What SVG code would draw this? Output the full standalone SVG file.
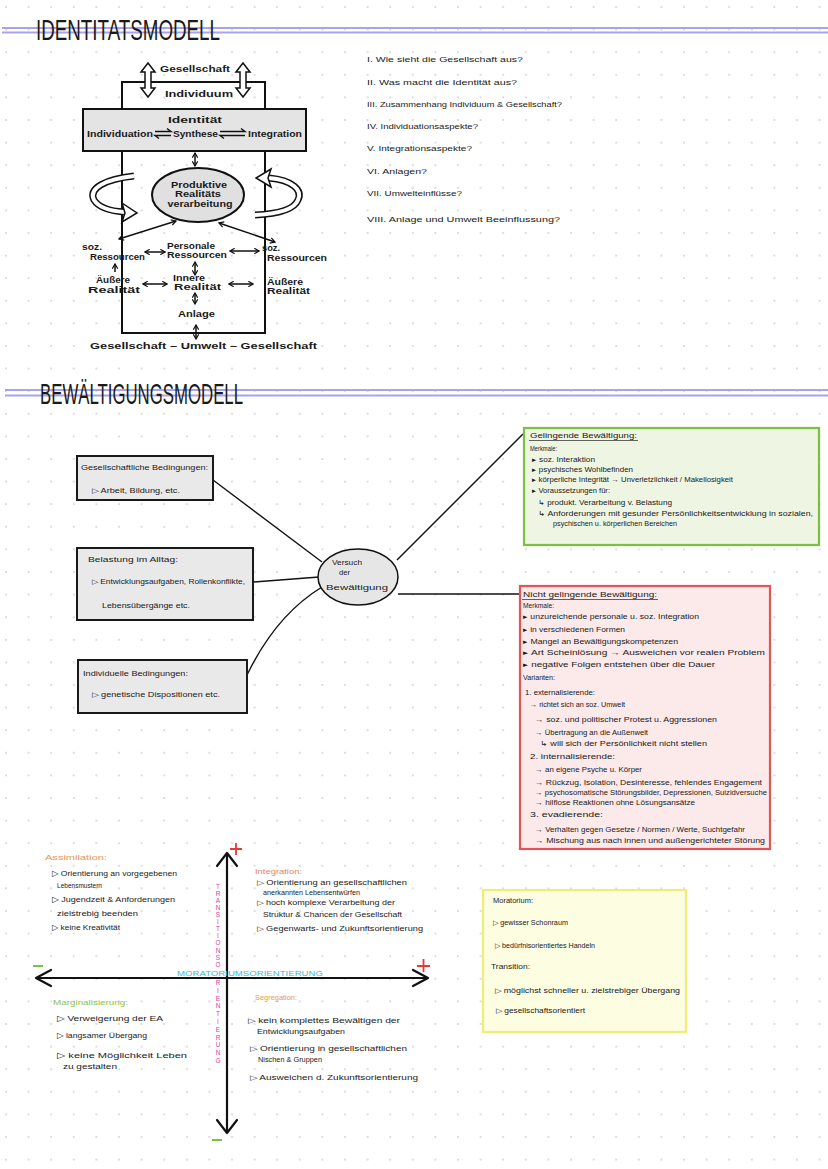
<svg xmlns="http://www.w3.org/2000/svg" width="828" height="1169" viewBox="0 0 828 1169">
<defs>
<pattern id="dots" x="5" y="6" width="22.6" height="22.6" patternUnits="userSpaceOnUse">
<circle cx="1" cy="1" r="0.9" fill="#cdcdcd"/>
</pattern>
<marker id="ah" viewBox="0 0 10 10" refX="8" refY="5" markerWidth="4.5" markerHeight="4.5" orient="auto-start-reverse"><path d="M1,1 L8,5 L1,9" fill="none" stroke="#111" stroke-width="1.8"/></marker>
</defs>
<style>
text{font-family:"Liberation Sans",Arial,sans-serif;fill:#1a1a1a;}
.title{font-size:30px;}
.idl{font-size:9px;font-weight:bold;}
.q{font-size:7.5px;}
.b{font-size:7.5px;}
.m{font-size:8px;}
.s{font-size:7px;}
.ln{stroke:#111;stroke-width:1.4;fill:none;}
.thick{stroke:#111;stroke-width:2;fill:none;}
.arr{stroke:#111;stroke-width:1.5;fill:none;marker-start:url(#ah);marker-end:url(#ah);}
.arr1{stroke:#111;stroke-width:1.5;fill:none;marker-end:url(#ah);}
.purple{stroke:#a9a3ee;stroke-width:2;}
.gbox{fill:#e9e9e9;stroke:#1a1a1a;stroke-width:2;}
.ax{stroke:#111;stroke-width:2.2;fill:none;stroke-linecap:round;stroke-linejoin:round;}
</style>
<rect width="828" height="1169" fill="#fff"/>
<rect width="828" height="1169" fill="url(#dots)"/>

<!-- Titles -->
<g id="title1">
<line class="purple" x1="2" y1="28" x2="828" y2="28"/>
<line class="purple" x1="2" y1="32.5" x2="828" y2="32.5"/>
<text class="title" x="36" y="40" textLength="184" lengthAdjust="spacingAndGlyphs">IDENTITATSMODELL</text>
</g>
<g id="title2">
<line class="purple" x1="5" y1="390" x2="828" y2="390"/>
<line class="purple" x1="5" y1="395.5" x2="828" y2="395.5"/>
<text class="title" x="40" y="404" textLength="203" lengthAdjust="spacingAndGlyphs">BEWÄLTIGUNGSMODELL</text>
</g>

<!-- Identity model -->
<g id="identitaetsmodell">
<rect x="122" y="82" width="143" height="251" class="thick"/>
<polygon points="148,63 155,72 151,72 151,88 155,88 148,97 141,88 145,88 145,72 141,72" fill="#fff" stroke="#111" stroke-width="1.5"/>
<polygon points="243,63 250,72 246,72 246,88 250,88 243,97 236,88 240,88 240,72 236,72" fill="#fff" stroke="#111" stroke-width="1.5"/>
<text class="idl" x="160" y="72" textLength="70" lengthAdjust="spacingAndGlyphs">Gesellschaft</text>
<text class="idl" x="165" y="97" textLength="68" lengthAdjust="spacingAndGlyphs">Individuum</text>
<g id="identitaet">
<rect x="83" y="109" width="223" height="42" fill="#e4e4e4" stroke="#111" stroke-width="2"/>
<text class="idl" x="168" y="123" textLength="54" lengthAdjust="spacingAndGlyphs">Identität</text>
<text class="idl" x="87" y="137" textLength="66" lengthAdjust="spacingAndGlyphs">Individuation</text>
<text class="idl" x="173" y="137" textLength="45" lengthAdjust="spacingAndGlyphs">Synthese</text>
<text class="idl" x="248" y="137" textLength="54" lengthAdjust="spacingAndGlyphs">Integration</text>
<path class="ln" d="M155,131.5 H171 L167,128.5 M171,135.5 H155 L159,138.5"/>
<path class="ln" d="M220,131.5 H245 L241,128.5 M245,135.5 H220 L224,138.5"/>
</g>
<line class="arr" x1="195" y1="153" x2="195" y2="166"/>
<g id="realitaetsverarbeitung">
<ellipse cx="198" cy="195" rx="46" ry="27" fill="#e0e0e0" stroke="#111" stroke-width="2"/>
<text class="idl" x="199" y="188" text-anchor="middle" textLength="56" lengthAdjust="spacingAndGlyphs">Produktive</text>
<text class="idl" x="198" y="197" text-anchor="middle" textLength="46" lengthAdjust="spacingAndGlyphs">Realitäts</text>
<text class="idl" x="200" y="207" text-anchor="middle" textLength="65" lengthAdjust="spacingAndGlyphs">verarbeitung</text>
</g>
<!-- curls -->
<path d="M134,176 C106,179 88,188 94,200 C99,208 110,211 124,212" fill="none" stroke="#111" stroke-width="7"/>
<path d="M134,176 C106,179 88,188 94,200 C99,208 110,211 124,212" fill="none" stroke="#fff" stroke-width="4"/>
<polygon points="122,203 137,213 122,222 125,213" fill="#fff" stroke="#111" stroke-width="1.5"/>
<path d="M269,178 C292,180 303,190 298,200 C294,210 276,214 255,215" fill="none" stroke="#111" stroke-width="7"/>
<path d="M269,178 C292,180 303,190 298,200 C294,210 276,214 255,215" fill="none" stroke="#fff" stroke-width="4"/>
<polygon points="271,169 256,178 271,187 268,178" fill="#fff" stroke="#111" stroke-width="1.5"/>
<line class="arr" x1="176" y1="221" x2="119" y2="239"/>
<line class="arr" x1="219" y1="223" x2="275" y2="242"/>
<text class="idl" x="82" y="250" textLength="20" lengthAdjust="spacingAndGlyphs">soz.</text>
<text class="idl" x="90" y="260" textLength="55" lengthAdjust="spacingAndGlyphs">Ressourcen</text>
<text class="idl" x="167" y="249" textLength="48" lengthAdjust="spacingAndGlyphs">Personale</text>
<text class="idl" x="167" y="258" textLength="60" lengthAdjust="spacingAndGlyphs">Ressourcen</text>
<text class="idl" x="262" y="251" textLength="18" lengthAdjust="spacingAndGlyphs">soz.</text>
<text class="idl" x="267" y="261" textLength="60" lengthAdjust="spacingAndGlyphs">Ressourcen</text>
<line class="arr" x1="145" y1="252" x2="165" y2="252"/>
<line class="arr" x1="230" y1="251" x2="259" y2="251"/>
<line class="arr" x1="195" y1="262" x2="195" y2="275"/>
<line class="arr1" x1="115" y1="272" x2="115" y2="264"/>
<text class="idl" x="96" y="283" textLength="34" lengthAdjust="spacingAndGlyphs">Äußere</text>
<text class="idl" x="88" y="293" textLength="52" lengthAdjust="spacingAndGlyphs">Realität</text>
<text class="idl" x="173" y="281" textLength="32" lengthAdjust="spacingAndGlyphs">Innere</text>
<text class="idl" x="174" y="290" textLength="47" lengthAdjust="spacingAndGlyphs">Realität</text>
<text class="idl" x="267" y="285" textLength="36" lengthAdjust="spacingAndGlyphs">Äußere</text>
<text class="idl" x="267" y="294" textLength="43" lengthAdjust="spacingAndGlyphs">Realität</text>
<line class="arr" x1="143" y1="284" x2="167" y2="284"/>
<line class="arr" x1="229" y1="284" x2="253" y2="284"/>
<line class="arr" x1="195" y1="293" x2="195" y2="304"/>
<text class="idl" x="178" y="317" textLength="37" lengthAdjust="spacingAndGlyphs">Anlage</text>
<line class="arr" x1="196" y1="325" x2="196" y2="339"/>
<text class="idl" x="90" y="349" font-size="10" textLength="227" lengthAdjust="spacingAndGlyphs">Gesellschaft  –  Umwelt  –  Gesellschaft</text>
</g>

<!-- Questions -->
<g id="fragen">
<text class="q" x="367" y="62" textLength="156" lengthAdjust="spacingAndGlyphs">I. Wie sieht die Gesellschaft aus?</text>
<text class="q" x="367" y="85" textLength="150" lengthAdjust="spacingAndGlyphs">II. Was macht die Identität aus?</text>
<text class="q" x="367" y="107" textLength="195" lengthAdjust="spacingAndGlyphs">III. Zusammenhang Individuum &amp; Gesellschaft?</text>
<text class="q" x="367" y="129" textLength="111" lengthAdjust="spacingAndGlyphs">IV. Individuationsaspekte?</text>
<text class="q" x="367" y="151" textLength="105" lengthAdjust="spacingAndGlyphs">V. Integrationsaspekte?</text>
<text class="q" x="367" y="174" textLength="60" lengthAdjust="spacingAndGlyphs">VI. Anlagen?</text>
<text class="q" x="367" y="196" textLength="95" lengthAdjust="spacingAndGlyphs">VII. Umwelteinflüsse?</text>
<text class="q" x="367" y="222" textLength="193" lengthAdjust="spacingAndGlyphs">VIII. Anlage und Umwelt Beeinflussung?</text>
</g>

<!-- Bewältigungsmodell connectors -->
<g id="connectors">
<line class="ln" x1="213" y1="480" x2="322" y2="562"/>
<line class="ln" x1="253" y1="582" x2="319" y2="577"/>
<path class="ln" d="M247,675 Q276,615 322,587"/>
<line class="ln" x1="397" y1="560" x2="523" y2="434"/>
<line class="ln" x1="398" y1="594" x2="521" y2="594"/>
</g>

<g id="gesellschaftliche-bedingungen">
<rect x="77" y="456" width="136" height="44" class="gbox"/>
<text class="s" x="81" y="470" textLength="127" lengthAdjust="spacingAndGlyphs">Gesellschaftliche Bedingungen:</text>
<text class="s" x="92" y="493" textLength="88" lengthAdjust="spacingAndGlyphs">▷ Arbeit, Bildung, etc.</text>
</g>
<g id="belastung">
<rect x="77" y="548" width="176" height="72" class="gbox"/>
<text class="s" x="88" y="562" textLength="90" lengthAdjust="spacingAndGlyphs">Belastung im Alltag:</text>
<text class="s" x="92" y="584" textLength="153" lengthAdjust="spacingAndGlyphs">▷ Entwicklungsaufgaben, Rollenkonflikte,</text>
<text class="s" x="102" y="608" textLength="88" lengthAdjust="spacingAndGlyphs">Lebensübergänge etc.</text>
</g>
<g id="individuelle-bedingungen">
<rect x="78" y="660" width="169" height="53" class="gbox"/>
<text class="s" x="83" y="676" textLength="105" lengthAdjust="spacingAndGlyphs">Individuelle Bedingungen:</text>
<text class="s" x="92" y="697" textLength="128" lengthAdjust="spacingAndGlyphs">▷ genetische Dispositionen etc.</text>
</g>
<g id="versuch">
<ellipse cx="358" cy="577" rx="40" ry="28" fill="#e6e6e6" stroke="#111" stroke-width="1.5"/>
<text class="s" x="332" y="565" textLength="30" lengthAdjust="spacingAndGlyphs">Versuch</text>
<text class="s" x="339" y="575" textLength="11" lengthAdjust="spacingAndGlyphs">der</text>
<text class="s" x="326" y="590" textLength="62" lengthAdjust="spacingAndGlyphs">Bewältigung</text>
</g>

<g id="gelingende">
<rect x="524" y="428" width="295" height="117" fill="#eef5e2" stroke="#7dbf3f" stroke-width="2.2"/>
<text class="s" x="530" y="438" textLength="107" lengthAdjust="spacingAndGlyphs">Gelingende Bewältigung:</text>
<line x1="529" y1="440.5" x2="638" y2="440.5" stroke="#222" stroke-width="0.7"/>
<text class="s" x="530" y="451" textLength="27" lengthAdjust="spacingAndGlyphs">Merkmale:</text>
<text class="s" x="532" y="462" textLength="63" lengthAdjust="spacingAndGlyphs">▸ soz. Interaktion</text>
<text class="s" x="532" y="472" textLength="101" lengthAdjust="spacingAndGlyphs">▸ psychisches Wohlbefinden</text>
<text class="s" x="532" y="482" textLength="201" lengthAdjust="spacingAndGlyphs">▸ körperliche Integrität → Unverletzlichkeit / Makellosigkeit</text>
<text class="s" x="532" y="493" textLength="78" lengthAdjust="spacingAndGlyphs">▸ Voraussetzungen für:</text>
<text class="s" x="538" y="505" textLength="134" lengthAdjust="spacingAndGlyphs">↳ produkt. Verarbeitung v. Belastung</text>
<text class="s" x="538" y="516" textLength="275" lengthAdjust="spacingAndGlyphs">↳ Anforderungen mit gesunder Persönlichkeitsentwicklung in sozialen,</text>
<text class="s" x="553" y="526" textLength="124" lengthAdjust="spacingAndGlyphs">psychischen u. körperlichen Bereichen</text>
</g>

<g id="nicht-gelingende">
<rect x="520" y="586" width="250" height="263" fill="#fce9e9" stroke="#e05555" stroke-width="2.2"/>
<text class="s" x="523" y="597" textLength="134" lengthAdjust="spacingAndGlyphs">Nicht gelingende Bewältigung:</text>
<line x1="522" y1="599.5" x2="658" y2="599.5" stroke="#222" stroke-width="0.7"/>
<text class="s" x="523" y="608" textLength="31" lengthAdjust="spacingAndGlyphs">Merkmale:</text>
<text class="s" x="523" y="619" textLength="176" lengthAdjust="spacingAndGlyphs">▸ unzureichende personale u. soz. Integration</text>
<text class="s" x="523" y="632" textLength="102" lengthAdjust="spacingAndGlyphs">▸ in verschiedenen Formen</text>
<text class="s" x="523" y="644" textLength="155" lengthAdjust="spacingAndGlyphs">▸ Mangel an Bewältigungskompetenzen</text>
<text class="s" x="523" y="655" textLength="242" lengthAdjust="spacingAndGlyphs">▸ Art Scheinlösung → Ausweichen vor realen Problem</text>
<text class="s" x="523" y="667" textLength="192" lengthAdjust="spacingAndGlyphs">▸ negative Folgen entstehen über die Dauer</text>
<text class="s" x="523" y="680" textLength="32" lengthAdjust="spacingAndGlyphs">Varianten:</text>
<text class="s" x="525" y="695" textLength="70" lengthAdjust="spacingAndGlyphs">1. externalisierende:</text>
<text class="s" x="530" y="707" textLength="95" lengthAdjust="spacingAndGlyphs">→ richtet sich an soz. Umwelt</text>
<text class="s" x="535" y="722" textLength="182" lengthAdjust="spacingAndGlyphs">→ soz. und politischer Protest u. Aggressionen</text>
<text class="s" x="535" y="735" textLength="113" lengthAdjust="spacingAndGlyphs">→ Übertragung an die Außenwelt</text>
<text class="s" x="540" y="746" textLength="167" lengthAdjust="spacingAndGlyphs">↳ will sich der Persönlichkeit nicht stellen</text>
<text class="s" x="530" y="759" textLength="85" lengthAdjust="spacingAndGlyphs">2. internalisierende:</text>
<text class="s" x="535" y="772" textLength="107" lengthAdjust="spacingAndGlyphs">→ an eigene Psyche u. Körper</text>
<text class="s" x="535" y="785" textLength="227" lengthAdjust="spacingAndGlyphs">→ Rückzug, Isolation, Desinteresse, fehlendes Engagement</text>
<text class="s" x="535" y="795" textLength="232" lengthAdjust="spacingAndGlyphs">→ psychosomatische Störungsbilder, Depressionen, Suizidversuche</text>
<text class="s" x="535" y="805" textLength="160" lengthAdjust="spacingAndGlyphs">→ hilflose Reaktionen ohne Lösungsansätze</text>
<text class="s" x="530" y="817" textLength="73" lengthAdjust="spacingAndGlyphs">3. evadierende:</text>
<text class="s" x="535" y="832" textLength="210" lengthAdjust="spacingAndGlyphs">→ Verhalten gegen Gesetze / Normen / Werte, Suchtgefahr</text>
<text class="s" x="535" y="843" textLength="230" lengthAdjust="spacingAndGlyphs">→ Mischung aus nach innen und außengerichteter Störung</text>
</g>

<!-- Axes -->
<g id="achsen">
<line class="ax" x1="227" y1="855" x2="227" y2="1131"/>
<path class="ax" d="M217,866 L227,853 L237,866"/>
<path class="ax" d="M217,1120 L227,1133 L237,1120"/>
<line class="ax" x1="37" y1="978" x2="427" y2="978"/>
<path class="ax" d="M51,970 L36,978 L51,986"/>
<path class="ax" d="M413,970 L428,978 L413,986"/>
<path d="M230,849 H242 M236,843 V855" stroke="#e53935" stroke-width="1.8" fill="none"/>
<path d="M417,966 H430 M423.5,959 V972" stroke="#e53935" stroke-width="1.8" fill="none"/>
<line x1="33" y1="966" x2="43" y2="966" stroke="#7cc242" stroke-width="2"/>
<line x1="212" y1="1140" x2="222" y2="1140" stroke="#7cc242" stroke-width="2"/>
<text x="177" y="976" font-size="6.5" style="fill:#3bb8dc" textLength="146" lengthAdjust="spacingAndGlyphs">MORATORIUMSORIENTIERUNG</text>
<text font-size="6.5" text-anchor="middle" style="fill:#e0409a" x="218" y="881.5"><tspan x="218" dy="7.1">T</tspan><tspan x="218" dy="7.1">R</tspan><tspan x="218" dy="7.1">A</tspan><tspan x="218" dy="7.1">N</tspan><tspan x="218" dy="7.1">S</tspan><tspan x="218" dy="7.1">I</tspan><tspan x="218" dy="7.1">T</tspan><tspan x="218" dy="7.1">I</tspan><tspan x="218" dy="7.1">O</tspan><tspan x="218" dy="7.1">N</tspan><tspan x="218" dy="7.1">S</tspan><tspan x="218" dy="7.1">O</tspan></text>
<text font-size="6.5" text-anchor="middle" style="fill:#e0409a" x="218" y="977.2"><tspan x="218" dy="7.8">R</tspan><tspan x="218" dy="7.8">I</tspan><tspan x="218" dy="7.8">E</tspan><tspan x="218" dy="7.8">N</tspan><tspan x="218" dy="7.8">T</tspan><tspan x="218" dy="7.8">I</tspan><tspan x="218" dy="7.8">E</tspan><tspan x="218" dy="7.8">R</tspan><tspan x="218" dy="7.8">U</tspan><tspan x="218" dy="7.8">N</tspan><tspan x="218" dy="7.8">G</tspan></text>
</g>

<g id="assimilation">
<text class="m" x="45" y="860" style="fill:#e8955a" textLength="62" lengthAdjust="spacingAndGlyphs">Assimilation:</text>
<text class="m" x="52" y="876" textLength="125" lengthAdjust="spacingAndGlyphs">▷ Orientierung an vorgegebenen</text>
<text class="m" x="57" y="888" textLength="45" lengthAdjust="spacingAndGlyphs">Lebensmustern</text>
<text class="m" x="52" y="902" textLength="123" lengthAdjust="spacingAndGlyphs">▷ Jugendzeit &amp; Anforderungen</text>
<text class="m" x="57" y="916" textLength="81" lengthAdjust="spacingAndGlyphs">zielstrebig beenden</text>
<text class="m" x="52" y="930" textLength="68" lengthAdjust="spacingAndGlyphs">▷ keine Kreativität</text>
</g>
<g id="integration">
<text class="s" x="255" y="874" style="fill:#e8846a" textLength="47" lengthAdjust="spacingAndGlyphs">Integration:</text>
<text class="s" x="257" y="885" textLength="150" lengthAdjust="spacingAndGlyphs">▷ Orientierung an gesellschaftlichen</text>
<text class="s" x="263" y="895" textLength="97" lengthAdjust="spacingAndGlyphs">anerkannten Lebensentwürfen</text>
<text class="s" x="257" y="905" textLength="138" lengthAdjust="spacingAndGlyphs">▷ hoch komplexe Verarbeitung der</text>
<text class="s" x="263" y="917" textLength="139" lengthAdjust="spacingAndGlyphs">Struktur &amp; Chancen der Gesellschaft</text>
<text class="s" x="257" y="931" textLength="166" lengthAdjust="spacingAndGlyphs">▷ Gegenwarts- und Zukunftsorientierung</text>
</g>
<g id="marginalisierung">
<text class="m" x="53" y="1005" style="fill:#8cc152" textLength="75" lengthAdjust="spacingAndGlyphs">Marginalisierung:</text>
<text class="m" x="57" y="1021" textLength="106" lengthAdjust="spacingAndGlyphs">▷ Verweigerung der EA</text>
<text class="m" x="57" y="1038" textLength="90" lengthAdjust="spacingAndGlyphs">▷ langsamer Übergang</text>
<text class="m" x="57" y="1058" textLength="130" lengthAdjust="spacingAndGlyphs">▷ keine Möglichkeit Leben</text>
<text class="m" x="63" y="1069" textLength="54" lengthAdjust="spacingAndGlyphs">zu gestalten</text>
</g>
<g id="segregation">
<text class="s" x="255" y="1000" style="fill:#e89a45" textLength="42" lengthAdjust="spacingAndGlyphs">Segregation:</text>
<text class="s" x="248" y="1023" textLength="152" lengthAdjust="spacingAndGlyphs">▷ kein komplettes Bewältigen der</text>
<text class="s" x="257" y="1034" textLength="88" lengthAdjust="spacingAndGlyphs">Entwicklungsaufgaben</text>
<text class="s" x="250" y="1051" textLength="157" lengthAdjust="spacingAndGlyphs">▷ Orientierung in gesellschaftlichen</text>
<text class="s" x="258" y="1062" textLength="64" lengthAdjust="spacingAndGlyphs">Nischen &amp; Gruppen</text>
<text class="s" x="250" y="1080" textLength="168" lengthAdjust="spacingAndGlyphs">▷ Ausweichen d. Zukunftsorientierung</text>
</g>

<g id="moratorium-transition">
<rect x="483" y="890" width="203" height="142" fill="#fdfde2" stroke="#f0ec78" stroke-width="2.2"/>
<text class="s" x="493" y="903" textLength="40" lengthAdjust="spacingAndGlyphs">Moratorium:</text>
<text class="s" x="493" y="925" textLength="75" lengthAdjust="spacingAndGlyphs">▷ gewisser Schonraum</text>
<text class="s" x="495" y="948" textLength="100" lengthAdjust="spacingAndGlyphs">▷ bedürfnisorientiertes Handeln</text>
<text class="s" x="491" y="969" textLength="39" lengthAdjust="spacingAndGlyphs">Transition:</text>
<text class="s" x="495" y="993" textLength="185" lengthAdjust="spacingAndGlyphs">▷ möglichst schneller u. zielstrebiger Übergang</text>
<text class="s" x="496" y="1013" textLength="89" lengthAdjust="spacingAndGlyphs">▷ gesellschaftsorientiert</text>
</g>
</svg>
